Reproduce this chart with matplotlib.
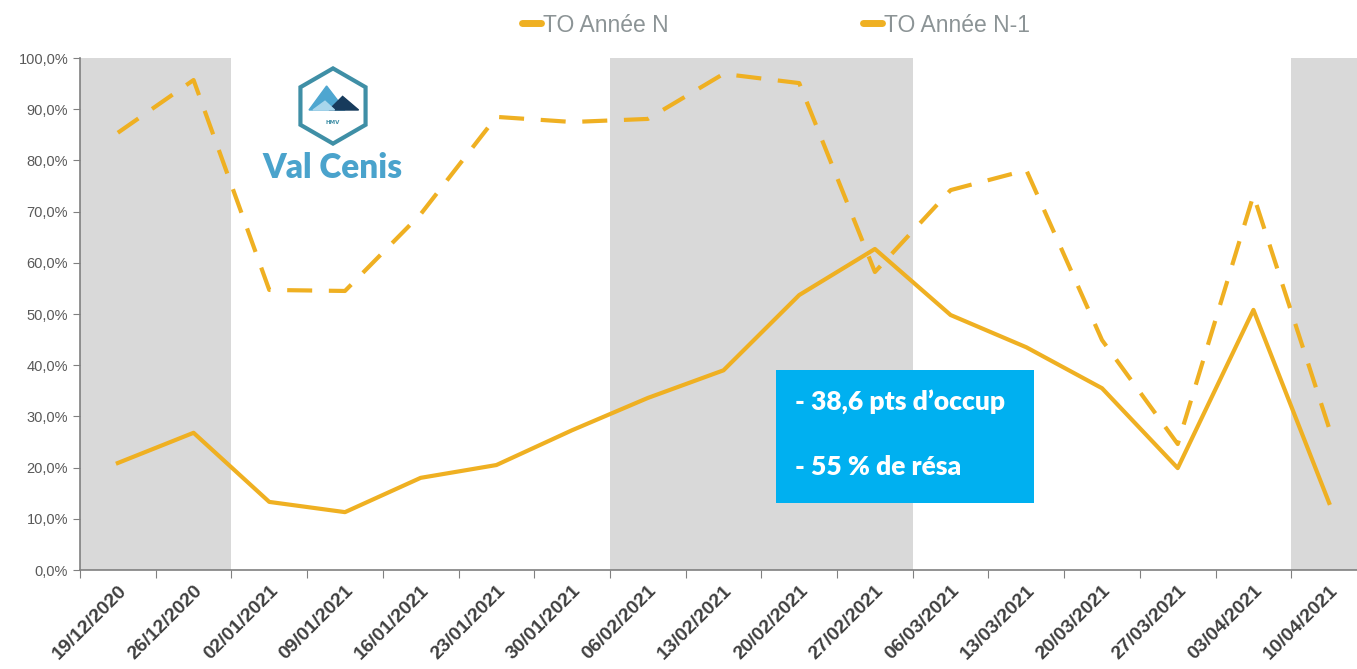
import matplotlib
matplotlib.use("Agg")
import matplotlib.pyplot as plt
from matplotlib.lines import Line2D
from matplotlib.patches import Rectangle, RegularPolygon, Polygon
from matplotlib.ticker import FuncFormatter

# semaines (samedi)
semaines = ["19/12/2020", "26/12/2020", "02/01/2021", "09/01/2021", "16/01/2021",
            "23/01/2021", "30/01/2021", "06/02/2021", "13/02/2021", "20/02/2021",
            "27/02/2021", "06/03/2021", "13/03/2021", "20/03/2021", "27/03/2021",
            "03/04/2021", "10/04/2021"]

# taux d'occupation (%)
to_annee_n = [20.9, 26.8, 13.3, 11.3, 18.0, 20.5, 27.3, 33.6, 39.0, 53.7,
              62.7, 49.8, 43.5, 35.5, 19.9, 50.8, 13.1]
to_annee_n1 = [85.4, 95.7, 54.7, 54.5, 69.5, 88.5, 87.5, 88.1, 96.9, 95.1,
               58.2, 74.2, 78.1, 44.9, 24.6, 73.2, 27.7]

# periodes de vacances scolaires (index premiere / derniere semaine)
vacances = [(0, 1), (7, 10), (16, 16)]

encart = ["- 38,6 pts d\u2019occup", "- 55 % de r\u00e9sa"]

orange = "#EFB022"
gris_txt = "#595959"

fig = plt.figure(figsize=(13.57, 6.69), dpi=100)
ax = fig.add_axes([80 / 1357, 99 / 669, 1287 / 1357, 512 / 669])

x = list(range(len(semaines)))
for a, b in vacances:
    ax.axvspan(a - 0.5, b + 0.5, color="#D9D9D9", lw=0, zorder=0)

ax.plot(x, [v / 100 for v in to_annee_n1], color=orange, lw=3, ls=(0, (6, 4)),
        zorder=3)
ax.plot(x, [v / 100 for v in to_annee_n], color=orange, lw=3, zorder=4)

ax.set_xlim(-0.5, len(semaines) - 0.5)
ax.set_ylim(0, 1)
ax.set_yticks([i / 10 for i in range(11)])
ax.yaxis.set_major_formatter(FuncFormatter(lambda v, p: f"{v * 100:.1f}%".replace(".", ",")))
ax.set_xticks([i - 0.5 for i in x], minor=False)
ax.set_xticklabels([])
ax.set_xticks(x, minor=True)
ax.set_xticklabels(semaines, minor=True, rotation=45, ha="right", va="top",
                   rotation_mode="anchor", fontsize=14, fontweight="bold",
                   color="#404040", family=["Liberation Sans", "DejaVu Sans"])
ax.tick_params(axis="x", which="minor", length=0, pad=9)
ax.tick_params(axis="x", which="major", length=6, color="#808080")
ax.tick_params(axis="y", length=5, color="#808080", labelsize=10.5, labelcolor=gris_txt)
for lab in ax.get_yticklabels():
    lab.set_family(["Liberation Sans", "DejaVu Sans"])

for s in ["top", "right"]:
    ax.spines[s].set_visible(False)
for s in ["left", "bottom"]:
    ax.spines[s].set_color("#808080")
    ax.spines[s].set_linewidth(1.2)

# legende
handles = [Line2D([], [], color=orange, lw=5, solid_capstyle="round"),
           Line2D([], [], color=orange, lw=5, solid_capstyle="round")]
fig.legend(handles, ["TO Ann\u00e9e N", "TO Ann\u00e9e N-1"], loc="center",
           bbox_to_anchor=(776 / 1357, 1 - 25 / 669), ncol=2, frameon=False,
           handlelength=0.8, handletextpad=0.1, columnspacing=8.5,
           prop={"family": ["Liberation Sans", "DejaVu Sans"], "size": 16.5},
           labelcolor="#8C9496")

# encart bleu
fig.add_artist(Rectangle((776 / 1357, 1 - 503 / 669), 258 / 1357, 133 / 669,
                         transform=fig.transFigure, color="#00B0F0", lw=0))
for txt, yp in zip(encart, [402, 467]):
    fig.text(795 / 1357, 1 - yp / 669, txt, color="white", fontsize=19,
             fontweight="heavy", va="center", ha="left",
             family=["Lato", "DejaVu Sans"])

# logo Val Cenis
lg = fig.add_axes([285 / 1357, 1 - 146 / 669, 96 / 1357, 80 / 669])
lg.set_xlim(0, 1.2)
lg.set_ylim(0, 1)
lg.set_aspect("equal")
lg.axis("off")
lg.add_patch(RegularPolygon((0.6, 0.5), 6, radius=0.47, orientation=0,
                            fc="white", ec="#3F8FA6", lw=3))
lg.add_patch(Polygon([(0.3, 0.45), (0.52, 0.75), (0.75, 0.45)], color="#4EA6D0"))
lg.add_patch(Polygon([(0.55, 0.45), (0.72, 0.62), (0.92, 0.45)], color="#173B5C"))
lg.add_patch(Polygon([(0.35, 0.45), (0.5, 0.56), (0.62, 0.45)], color="#A9D6EC"))
lg.text(0.6, 0.3, "HMV", ha="center", va="center", fontsize=4, color="#3F8FA6",
        fontweight="bold")
fig.text(333 / 1357, 1 - 168 / 669, "Val Cenis", ha="center", va="center",
         fontsize=24, fontweight="heavy", color="#4AA3CC",
         family=["Lato", "DejaVu Sans"])

fig.savefig("out.png", dpi=100)
